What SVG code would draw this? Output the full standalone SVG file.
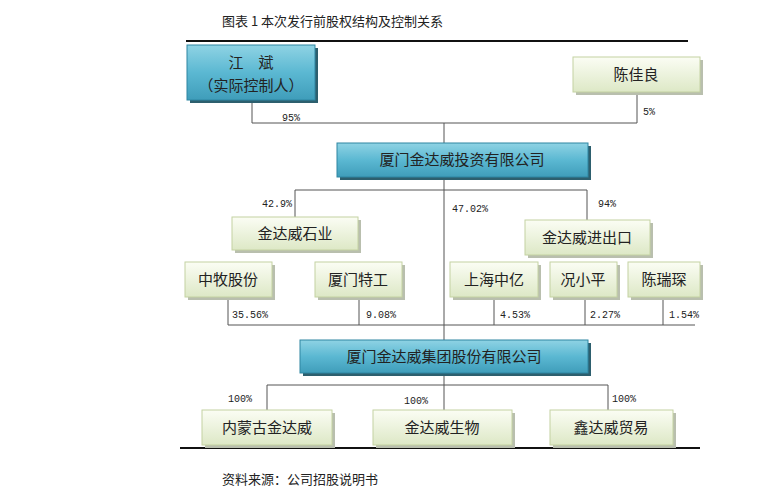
<svg xmlns="http://www.w3.org/2000/svg" width="780" height="500" viewBox="0 0 780 500">
<defs>
<linearGradient id="gb" x1="0" y1="0" x2="0" y2="1"><stop offset="0" stop-color="#8fd3e4"/><stop offset="0.5" stop-color="#5bb8d2"/><stop offset="1" stop-color="#3f9dba"/></linearGradient>
<linearGradient id="gg" x1="0" y1="0" x2="0" y2="1"><stop offset="0" stop-color="#fbfdf4"/><stop offset="1" stop-color="#dde8c6"/></linearGradient>
</defs>
<style>
.b{fill:url(#gb);stroke:#2f86a2;stroke-width:1}
.g{fill:url(#gg);stroke:#c4d2a2;stroke-width:1}
.sb{fill:#2d5f6e}
.sg{fill:#b9bfae}
text{font-family:"Noto Sans CJK SC","Liberation Serif",serif;fill:#222}
.t{font-size:15px;text-anchor:middle}
.p{font-size:10px;font-family:"Liberation Mono","Noto Sans CJK SC",monospace}
.c line{stroke:#555;stroke-width:1}
</style>
<rect width="780" height="500" fill="#fff"/>
<text x="222" y="26" style="font-size:13px">图表 1 本次发行前股权结构及控制关系</text>
<line x1="186" y1="41" x2="688" y2="41" stroke="#111" stroke-width="2"/>
<line x1="180" y1="448" x2="700" y2="448" stroke="#111" stroke-width="2"/>
<text x="222" y="484" style="font-size:13px">资料来源：公司招股说明书</text>
<g class="c">
<line x1="252" y1="100" x2="252" y2="123"/><line x1="252" y1="123" x2="637" y2="123"/><line x1="637" y1="92" x2="637" y2="123"/><line x1="444" y1="123" x2="444" y2="143"/>
<line x1="444" y1="177" x2="444" y2="340"/><line x1="295" y1="190" x2="587" y2="190"/><line x1="295" y1="190" x2="295" y2="217"/><line x1="587" y1="190" x2="587" y2="220"/>
<line x1="228" y1="325" x2="695" y2="325"/><line x1="228" y1="297" x2="228" y2="325"/><line x1="359" y1="297" x2="359" y2="325"/><line x1="494" y1="297" x2="494" y2="325"/><line x1="585" y1="297" x2="585" y2="325"/><line x1="663" y1="297" x2="663" y2="325"/>
<line x1="444" y1="373" x2="444" y2="410"/><line x1="267" y1="385" x2="608" y2="385"/><line x1="267" y1="385" x2="267" y2="410"/><line x1="608" y1="385" x2="608" y2="410"/>
</g>
<g class="lbl">
<text class="p" x="282" y="121">95%</text><text class="p" x="643" y="115">5%</text>
<text class="p" x="262" y="207">42.9%</text><text class="p" x="452" y="212">47.02%</text><text class="p" x="598" y="207">94%</text>
<text class="p" x="232" y="318">35.56%</text><text class="p" x="366" y="318">9.08%</text><text class="p" x="500" y="318">4.53%</text><text class="p" x="590" y="318">2.27%</text><text class="p" x="669" y="318">1.54%</text>
<text class="p" x="228" y="402">100%</text><text class="p" x="404" y="404">100%</text><text class="p" x="612" y="402">100%</text>
</g>
<g id="jiangbin"><rect class="sb" x="190" y="48" width="128" height="55"/><rect class="b" x="187" y="45" width="128" height="55"/><text class="t" x="251" y="68">江　斌</text><text class="t" x="251" y="91">（实际控制人）</text></g>
<g id="chenjialiang"><rect class="sg" x="576" y="60" width="127" height="35"/><rect class="g" x="573" y="57" width="127" height="35"/><text class="t" x="636" y="80">陈佳良</text></g>
<g id="touzi"><rect class="sb" x="340" y="146" width="251" height="34"/><rect class="b" x="337" y="143" width="251" height="34"/><text class="t" x="462" y="165">厦门金达威投资有限公司</text></g>
<g id="shiye"><rect class="sg" x="235" y="220" width="126" height="33"/><rect class="g" x="232" y="217" width="126" height="33"/><text class="t" x="295" y="239">金达威石业</text></g>
<g id="jinchukou"><rect class="sg" x="528" y="223" width="125" height="35"/><rect class="g" x="525" y="220" width="125" height="35"/><text class="t" x="587" y="243">金达威进出口</text></g>
<g id="zhongmu"><rect class="sg" x="188" y="265" width="87" height="35"/><rect class="g" x="185" y="262" width="87" height="35"/><text class="t" x="228" y="285">中牧股份</text></g>
<g id="tegong"><rect class="sg" x="318" y="265" width="87" height="35"/><rect class="g" x="315" y="262" width="87" height="35"/><text class="t" x="358" y="285">厦门特工</text></g>
<g id="zhongyi"><rect class="sg" x="453" y="265" width="88" height="35"/><rect class="g" x="450" y="262" width="88" height="35"/><text class="t" x="494" y="285">上海中亿</text></g>
<g id="kuang"><rect class="sg" x="553" y="265" width="67" height="35"/><rect class="g" x="550" y="262" width="67" height="35"/><text class="t" x="583" y="285">况小平</text></g>
<g id="chenrui"><rect class="sg" x="631" y="265" width="72" height="35"/><rect class="g" x="628" y="262" width="72" height="35"/><text class="t" x="664" y="285">陈瑞琛</text></g>
<g id="jituan"><rect class="sb" x="303" y="343" width="288" height="33"/><rect class="b" x="300" y="340" width="288" height="33"/><text class="t" x="444" y="362">厦门金达威集团股份有限公司</text></g>
<g id="neimeng"><rect class="sg" x="205" y="413" width="130" height="35"/><rect class="g" x="202" y="410" width="130" height="35"/><text class="t" x="267" y="433">内蒙古金达威</text></g>
<g id="shengwu"><rect class="sg" x="376" y="413" width="139" height="35"/><rect class="g" x="373" y="410" width="139" height="35"/><text class="t" x="442" y="433">金达威生物</text></g>
<g id="maoyi"><rect class="sg" x="553" y="413" width="123" height="35"/><rect class="g" x="550" y="410" width="123" height="35"/><text class="t" x="611" y="433">鑫达威贸易</text></g>
</svg>
